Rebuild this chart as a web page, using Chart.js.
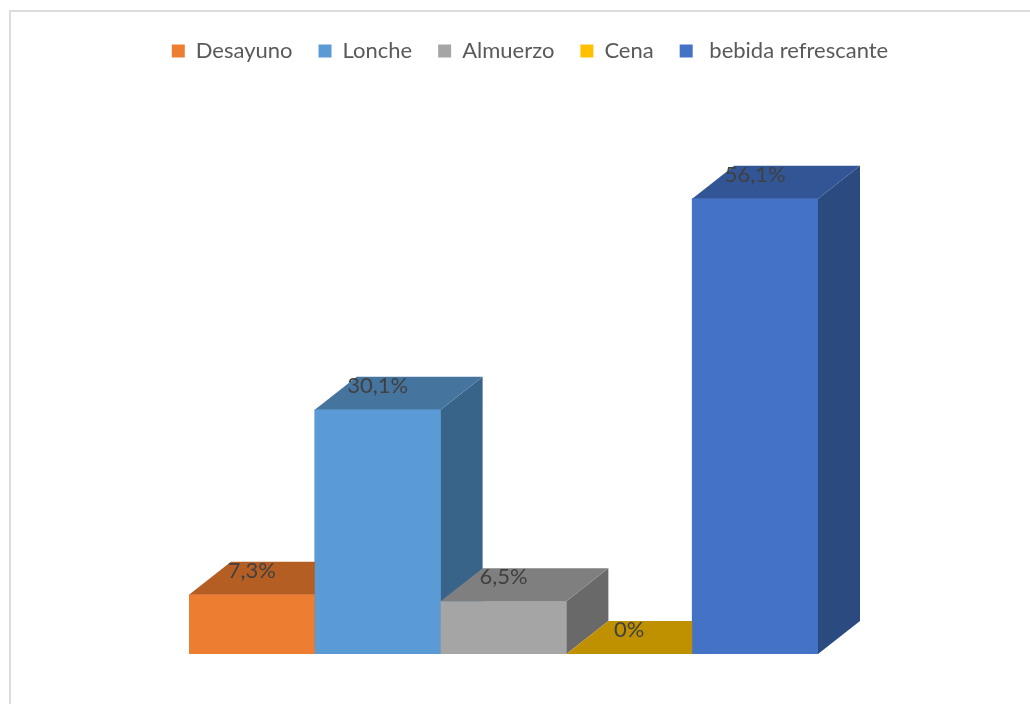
<!DOCTYPE html>
<html>
<head>
<meta charset="utf-8">
<script src="https://cdn.jsdelivr.net/npm/chart.js@4.4.1/dist/chart.umd.min.js"></script>
<style>
  html, body { margin:0; padding:0; background:#fff; overflow:hidden; }
  .marco { position:absolute; left:9px; top:10px; width:1100px; height:800px;
           border-left:2px solid #dcdcdc; border-top:2px solid #dcdcdc; }
  #comidas { position:absolute; left:0; top:0; }
</style>
</head>
<body>
<div class="marco"></div>
<canvas id="comidas" width="1030" height="704"></canvas>
<script>
// datos
const categorias  = ['Desayuno', 'Lonche', 'Almuerzo', 'Cena', ' bebida refrescante'];
const porcentajes = [7.3, 30.1, 6.5, 0, 56.1];

// colores: cara frontal, tapa y lateral de cada columna
const frentes = ['#ED7D31', '#5B9BD5', '#A5A5A5', '#FFC000', '#4472C4'];
const tapas   = ['#B55E24', '#45749F', '#7F7F7F', '#BF9000', '#325596'];
const lados   = ['#9E521F', '#38648A', '#696969', '#A67D00', '#2B4A80'];

const FUENTE = 'Lato, "Open Sans", sans-serif';
const DX = 42, DY = 33;   // profundidad del efecto 3D

const fmtPct = v => String(v).replace('.', ',') + '%';

// dibuja tapa y lateral de cada barra, en orden de izquierda a derecha
const cubos3d = {
  id: 'cubos3d',
  afterDatasetsDraw(chart) {
    const ctx = chart.ctx;
    const bars = chart.getDatasetMeta(0).data;
    ctx.save();
    bars.forEach((bar, i) => {
      const { x, y, base, width } = bar.getProps(['x', 'y', 'base', 'width'], true);
      const l = x - width / 2, r = x + width / 2;

      ctx.fillStyle = lados[i];
      ctx.beginPath();
      ctx.moveTo(r, y); ctx.lineTo(r + DX, y - DY);
      ctx.lineTo(r + DX, base - DY); ctx.lineTo(r, base);
      ctx.closePath(); ctx.fill();

      ctx.fillStyle = tapas[i];
      ctx.beginPath();
      ctx.moveTo(l, y); ctx.lineTo(r, y);
      ctx.lineTo(r + DX, y - DY); ctx.lineTo(l + DX, y - DY);
      ctx.closePath(); ctx.fill();

      ctx.fillStyle = frentes[i];
      ctx.fillRect(l, y, width, base - y);
    });

    // etiquetas de valor
    ctx.font = '22px ' + FUENTE;
    ctx.fillStyle = '#404040';
    ctx.textAlign = 'center';
    ctx.textBaseline = 'middle';
    bars.forEach((bar, i) => {
      const { x, y } = bar.getProps(['x', 'y'], true);
      ctx.fillText(fmtPct(porcentajes[i]), x, y - 24);
    });
    ctx.restore();
  }
};

const ejeOculto = (ancho, pos) => ({
  type: 'linear', position: pos, display: true, min: 0, max: 71.7,
  ticks: { display: false }, grid: { display: false }, border: { display: false },
  afterFit: s => { s.width = ancho; }
});

new Chart(document.getElementById('comidas'), {
  type: 'bar',
  data: {
    labels: categorias,
    datasets: [{
      data: porcentajes,
      backgroundColor: frentes,
      borderWidth: 0,
      barPercentage: 1,
      categoryPercentage: 1
    }]
  },
  options: {
    responsive: false,
    animation: false,
    devicePixelRatio: 1,
    layout: { padding: { top: 14, left: 40, right: 10, bottom: 50 } },
    plugins: {
      tooltip: { enabled: false },
      legend: {
        position: 'top',
        labels: {
          font: { family: FUENTE, size: 22 },
          color: '#595959',
          boxWidth: 13,
          boxHeight: 13,
          padding: 26,
          generateLabels: () => categorias.map((c, i) => ({
            text: c, fillStyle: frentes[i], strokeStyle: frentes[i],
            fontColor: '#595959', lineWidth: 0, hidden: false, index: i
          }))
        }
      }
    },
    scales: {
      x: { display: false },
      y: ejeOculto(149, 'left'),
      y2: ejeOculto(202, 'right')
    }
  },
  plugins: [cubos3d]
});
</script>
</body>
</html>
